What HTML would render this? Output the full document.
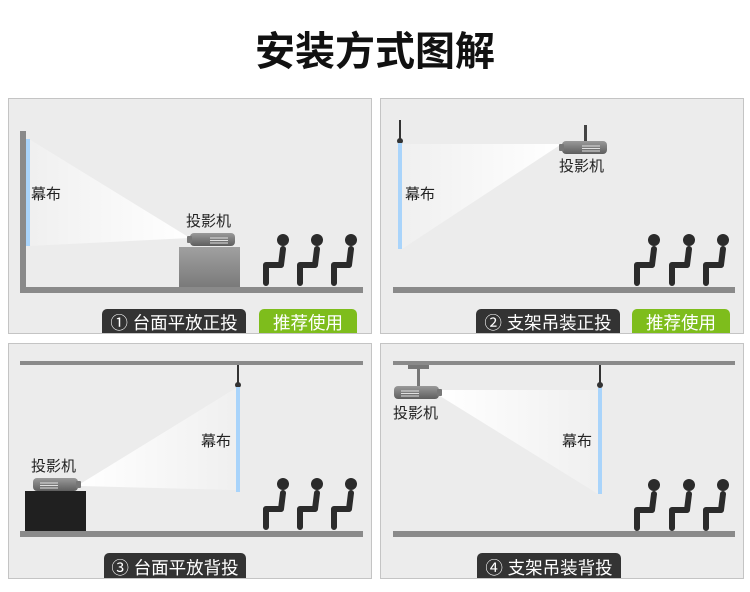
<!DOCTYPE html>
<html><head><meta charset="utf-8"><style>
html,body{margin:0;padding:0;background:#fff;width:750px;height:592px;overflow:hidden}
svg{display:block}
text{font-family:"Liberation Sans","Noto Sans CJK SC",sans-serif}
</style></head><body>
<svg width="750" height="592" viewBox="0 0 750 592" xmlns="http://www.w3.org/2000/svg">
<defs>
<linearGradient id="beamL" x1="0" x2="1" y1="0" y2="0"><stop offset="0" stop-color="#fff" stop-opacity="0.2"/><stop offset="1" stop-color="#fff" stop-opacity="1"/></linearGradient>
<linearGradient id="beamR" x1="1" x2="0" y1="0" y2="0"><stop offset="0" stop-color="#fff" stop-opacity="0.2"/><stop offset="1" stop-color="#fff" stop-opacity="1"/></linearGradient>
<linearGradient id="proj" x1="0" x2="0" y1="0" y2="1"><stop offset="0" stop-color="#9a9a9a"/><stop offset="1" stop-color="#5e5e5e"/></linearGradient>
<linearGradient id="tbl" x1="0" x2="0" y1="0" y2="1"><stop offset="0" stop-color="#a0a0a0"/><stop offset="1" stop-color="#7a7a7a"/></linearGradient>
<g id="person"><circle cx="0" cy="0" r="6" fill="#2b2b2b"/><path d="M0,9 L-2,25 L-17,25 L-17,43" fill="none" stroke="#2b2b2b" stroke-width="6" stroke-linejoin="round" stroke-linecap="round"/></g>
<g id="projR"><rect x="0" y="0" width="45" height="13" rx="4" fill="url(#proj)"/><rect x="-3" y="3" width="5" height="7" rx="1" fill="#777"/><line x1="20" y1="5" x2="38" y2="5" stroke="#e0e0e0" stroke-width="1"/><line x1="20" y1="7.5" x2="38" y2="7.5" stroke="#e0e0e0" stroke-width="1"/><line x1="20" y1="10" x2="38" y2="10" stroke="#e0e0e0" stroke-width="1"/></g>
<g id="projL"><rect x="0" y="0" width="45" height="13" rx="4" fill="url(#proj)"/><rect x="43" y="3" width="5" height="7" rx="1" fill="#777"/><line x1="7" y1="5" x2="25" y2="5" stroke="#e0e0e0" stroke-width="1"/><line x1="7" y1="7.5" x2="25" y2="7.5" stroke="#e0e0e0" stroke-width="1"/><line x1="7" y1="10" x2="25" y2="10" stroke="#e0e0e0" stroke-width="1"/></g>
</defs>
<text x="375" y="65" text-anchor="middle" font-size="40" font-weight="bold" fill="#111">安装方式图解</text>

<!-- Panel 1 -->
<rect x="8.5" y="98.5" width="363" height="235" fill="#ececec" stroke="#c4c4c4"/>
<polygon points="29,139 29,246 190,238" fill="url(#beamL)"/>
<rect x="20" y="131" width="6" height="162" fill="#8a8a8a"/>
<rect x="20" y="287" width="343" height="6" fill="#8a8a8a"/>
<rect x="26" y="139" width="4" height="107" fill="#a9d4fb"/>
<rect x="179" y="247" width="61" height="40" fill="url(#tbl)"/>
<use href="#projR" x="190" y="233"/>
<text x="31" y="199" font-size="15" fill="#222">幕布</text>
<text x="186" y="226" font-size="15" fill="#222">投影机</text>
<use href="#person" x="283" y="240"/><use href="#person" x="317" y="240"/><use href="#person" x="351" y="240"/>
<path d="M102,314 a5,5 0 0 1 5,-5 h134 a5,5 0 0 1 5,5 v19 h-144z" fill="#333"/>
<text x="174" y="329" text-anchor="middle" font-size="17.5" fill="#fff">① 台面平放正投</text>
<path d="M259,314 a5,5 0 0 1 5,-5 h88 a5,5 0 0 1 5,5 v19 h-98z" fill="#7ebd1c"/>
<text x="308" y="329" text-anchor="middle" font-size="17.5" fill="#fff">推荐使用</text>

<!-- Panel 2 -->
<rect x="380.5" y="98.5" width="363" height="235" fill="#ececec" stroke="#c4c4c4"/>
<polygon points="402,144 402,249 560,145 560,144" fill="url(#beamL)"/>
<rect x="399" y="120" width="2" height="20" fill="#333"/>
<circle cx="400" cy="141" r="3" fill="#333"/>
<rect x="398" y="143" width="4" height="106" fill="#a9d4fb"/>
<rect x="584" y="125" width="3" height="16" fill="#444"/>
<use href="#projR" x="562" y="141"/>
<text x="559" y="171" font-size="15" fill="#222">投影机</text>
<text x="405" y="199" font-size="15" fill="#222">幕布</text>
<rect x="393" y="287" width="342" height="6" fill="#8a8a8a"/>
<use href="#person" x="654" y="240"/><use href="#person" x="689" y="240"/><use href="#person" x="723" y="240"/>
<path d="M476,314 a5,5 0 0 1 5,-5 h134 a5,5 0 0 1 5,5 v19 h-144z" fill="#333"/>
<text x="548" y="329" text-anchor="middle" font-size="17.5" fill="#fff">② 支架吊装正投</text>
<path d="M632,314 a5,5 0 0 1 5,-5 h88 a5,5 0 0 1 5,5 v19 h-98z" fill="#7ebd1c"/>
<text x="681" y="329" text-anchor="middle" font-size="17.5" fill="#fff">推荐使用</text>

<!-- Panel 3 -->
<rect x="8.5" y="343.5" width="363" height="235" fill="#ececec" stroke="#c4c4c4"/>
<rect x="20" y="361" width="343" height="4" fill="#8a8a8a"/>
<polygon points="80,484 236,388 236,490 80,486" fill="url(#beamR)"/>
<rect x="237" y="365" width="2" height="19" fill="#333"/>
<circle cx="238" cy="385" r="3" fill="#333"/>
<rect x="236" y="387" width="4" height="105" fill="#a9d4fb"/>
<text x="201" y="446" font-size="15" fill="#222">幕布</text>
<rect x="25" y="491" width="61" height="40" fill="#202020"/>
<use href="#projL" x="33" y="478"/>
<text x="31" y="471" font-size="15" fill="#222">投影机</text>
<rect x="20" y="531" width="343" height="6" fill="#8a8a8a"/>
<use href="#person" x="283" y="484"/><use href="#person" x="317" y="484"/><use href="#person" x="351" y="484"/>
<path d="M104,558 a5,5 0 0 1 5,-5 h132 a5,5 0 0 1 5,5 v20 h-142z" fill="#333"/>
<text x="175" y="574" text-anchor="middle" font-size="17.5" fill="#fff">③ 台面平放背投</text>

<!-- Panel 4 -->
<rect x="380.5" y="343.5" width="363" height="235" fill="#ececec" stroke="#c4c4c4"/>
<rect x="393" y="361" width="342" height="4" fill="#8a8a8a"/>
<polygon points="440,390 598,390 598,494 440,396" fill="url(#beamR)"/>
<rect x="408" y="365" width="21" height="4" fill="#777"/>
<rect x="417" y="369" width="3" height="17" fill="#777"/>
<use href="#projL" x="394" y="386"/>
<text x="393" y="418" font-size="15" fill="#222">投影机</text>
<rect x="599" y="365" width="2" height="19" fill="#333"/>
<circle cx="600" cy="385" r="3" fill="#333"/>
<rect x="598" y="388" width="4" height="106" fill="#a9d4fb"/>
<text x="562" y="446" font-size="15" fill="#222">幕布</text>
<rect x="393" y="531" width="342" height="6" fill="#8a8a8a"/>
<use href="#person" x="654" y="485"/><use href="#person" x="689" y="485"/><use href="#person" x="723" y="485"/>
<path d="M477,558 a5,5 0 0 1 5,-5 h134 a5,5 0 0 1 5,5 v20 h-144z" fill="#333"/>
<text x="549" y="574" text-anchor="middle" font-size="17.5" fill="#fff">④ 支架吊装背投</text>
</svg>
</body></html>
